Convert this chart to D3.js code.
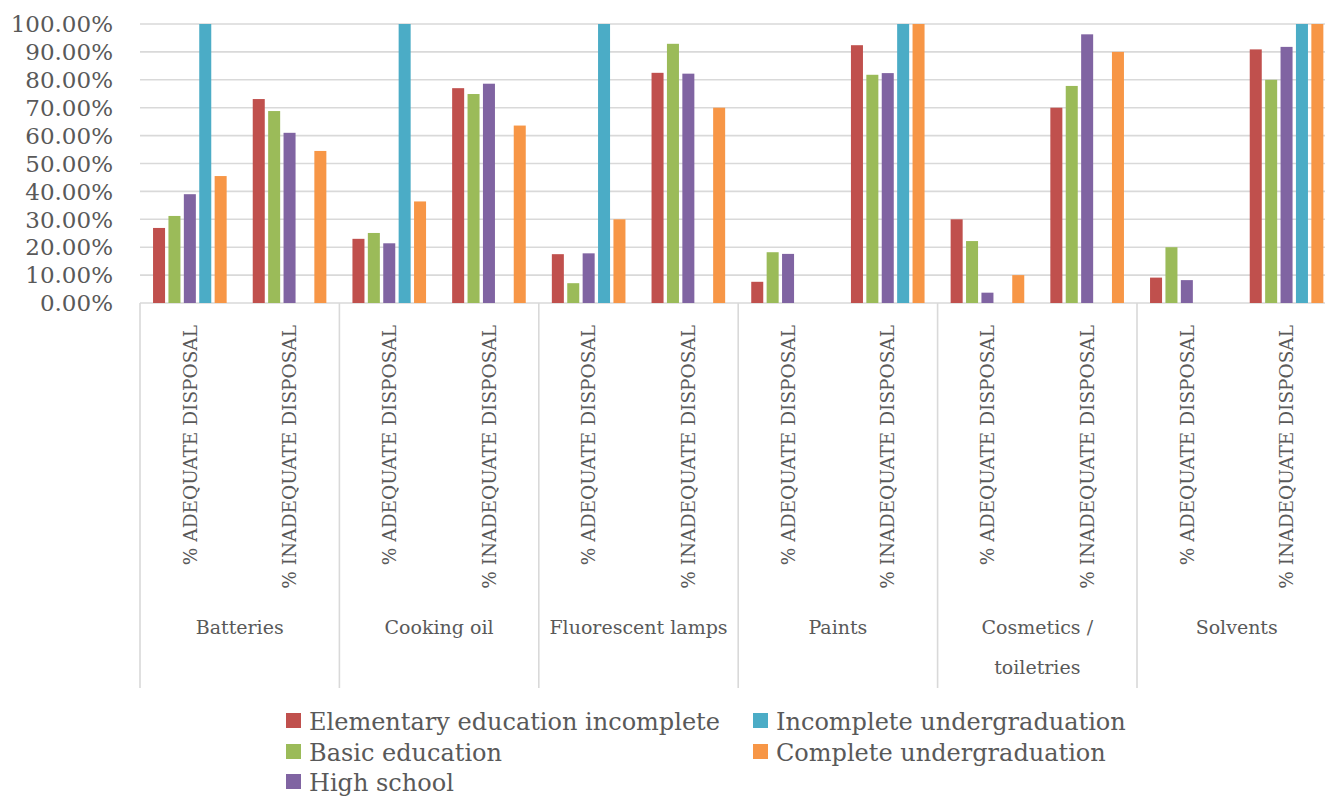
<!DOCTYPE html>
<html lang="en">
<head>
<meta charset="UTF-8">
<title>Disposal by education level</title>
<script src="https://d3js.org/d3.v7.min.js"></script>
<style>
  body { margin: 0; background: #fff; }
  svg { display: block; font-family: "DejaVu Serif", serif; }
</style>
</head>
<body>
<svg></svg>
<script>
// categories
const products = ['Batteries', 'Cooking oil', 'Fluorescent lamps', 'Paints', 'Cosmetics / toiletries', 'Solvents'];
const disposal = ['% ADEQUATE DISPOSAL', '% INADEQUATE DISPOSAL'];

// series, in percent, order: product x (adequate, inadequate)
const seriesNames = ['Elementary education incomplete', 'Basic education', 'High school',
                     'Incomplete undergraduation', 'Complete undergraduation'];
const elementary = [26.9, 73.1, 23.0, 77.0, 17.5, 82.5, 7.6, 92.4, 30.0, 70.0, 9.1, 90.9];
const basic      = [31.2, 68.8, 25.1, 74.9, 7.1, 92.9, 18.2, 81.8, 22.2, 77.8, 20.0, 80.0];
const highSchool = [39.0, 61.0, 21.4, 78.6, 17.8, 82.2, 17.6, 82.4, 3.7, 96.3, 8.2, 91.8];
const incomplete = [100, 0, 100, 0, 100, 0, 0, 100, 0, 0, 0, 100];
const complete   = [45.5, 54.5, 36.4, 63.6, 30.0, 70.0, 0, 100, 10.0, 90.0, 0, 100];
const yTicks = [0, 10, 20, 30, 40, 50, 60, 70, 80, 90, 100];

const allSeries = [elementary, basic, highSchool, incomplete, complete];
const colors = ['#C0504D', '#9BBB59', '#8064A2', '#4BACC6', '#F79646'];

const width = 1325, height = 798;
const plotLeft = 140, catW = 199.4;
const plotTop = 24, plotBottom = 303;

const svg = d3.select('svg').attr('width', width).attr('height', height);

const x0 = d3.scaleBand().domain(products).range([plotLeft, plotLeft + catW * products.length]);
const x1 = d3.scaleBand().domain(disposal).range([0, x0.bandwidth()]);
const x2 = d3.scaleBand().domain(seriesNames).range([0, x1.bandwidth()])
    .paddingInner(0.22).paddingOuter(0.847);
const y = d3.scaleLinear().domain([0, 100]).range([plotBottom, plotTop]);

// gridlines
svg.append('g')
    .selectAll('line')
    .data(yTicks)
    .join('line')
    .attr('x1', plotLeft).attr('x2', width)
    .attr('y1', d => y(d)).attr('y2', d => y(d))
    .attr('stroke', '#D9D9D9').attr('stroke-width', 1.6);

// y tick labels
svg.append('g')
    .selectAll('text')
    .data(yTicks)
    .join('text')
    .attr('x', 113)
    .attr('y', d => y(d))
    .attr('dy', '0.36em')
    .attr('text-anchor', 'end')
    .attr('font-size', 23)
    .attr('fill', '#595959')
    .text(d => d3.format('.2f')(d) + '%');

// bars
const rows = [];
products.forEach((p, pi) => disposal.forEach((s, si) => {
    seriesNames.forEach((n, ni) => {
        rows.push({product: p, sub: s, name: n, value: allSeries[ni][pi * 2 + si], color: colors[ni]});
    });
}));

svg.append('g')
    .selectAll('rect')
    .data(rows.filter(d => d.value > 0))
    .join('rect')
    .attr('x', d => x0(d.product) + x1(d.sub) + x2(d.name))
    .attr('width', x2.bandwidth())
    .attr('y', d => y(d.value))
    .attr('height', d => y(0) - y(d.value))
    .attr('fill', d => d.color);

// category separators
const sepY2 = 688;
svg.append('g')
    .selectAll('line')
    .data(products.map(p => x0(p)).concat([x0.range()[1]]))
    .join('line')
    .attr('x1', d => d).attr('x2', d => d)
    .attr('y1', plotBottom).attr('y2', sepY2)
    .attr('stroke', '#D9D9D9').attr('stroke-width', 1.6);

// rotated sub labels
const subs = [];
products.forEach(p => disposal.forEach(s => subs.push({p, s})));
svg.append('g')
    .selectAll('text')
    .data(subs)
    .join('text')
    .attr('transform', d => `translate(${x0(d.p) + x1(d.s) + x1.bandwidth() / 2},325) rotate(-90)`)
    .attr('dy', '0.36em')
    .attr('text-anchor', 'end')
    .attr('font-size', 18.5)
    .attr('fill', '#595959')
    .text(d => d.s);

// product labels (wrap on " / ")
const prodLabels = svg.append('g')
    .selectAll('text')
    .data(products)
    .join('text')
    .attr('x', d => x0(d) + x0.bandwidth() / 2)
    .attr('y', 627)
    .attr('text-anchor', 'middle')
    .attr('font-size', 19)
    .attr('fill', '#595959');

prodLabels.each(function (d) {
    const parts = d.includes(' / ') ? [d.split(' / ')[0] + ' /', d.split(' / ')[1]] : [d];
    d3.select(this).selectAll('tspan')
        .data(parts)
        .join('tspan')
        .attr('x', x0(d) + x0.bandwidth() / 2)
        .attr('dy', (t, i) => i === 0 ? '0.36em' : 40)
        .text(t => t);
});

// legend
const legendPos = [[286, 721], [286, 752], [286, 782], [753, 721], [753, 752]];
const legend = svg.append('g')
    .selectAll('g')
    .data(seriesNames)
    .join('g')
    .attr('transform', (d, i) => `translate(${legendPos[i][0]},${legendPos[i][1]})`);

legend.append('rect')
    .attr('x', 0).attr('y', -8)
    .attr('width', 15).attr('height', 15)
    .attr('fill', (d, i) => colors[i]);

legend.append('text')
    .attr('x', 23)
    .attr('y', 0)
    .attr('dy', '0.36em')
    .attr('font-size', 24)
    .attr('fill', '#595959')
    .text(d => d);
</script>
</body>
</html>
